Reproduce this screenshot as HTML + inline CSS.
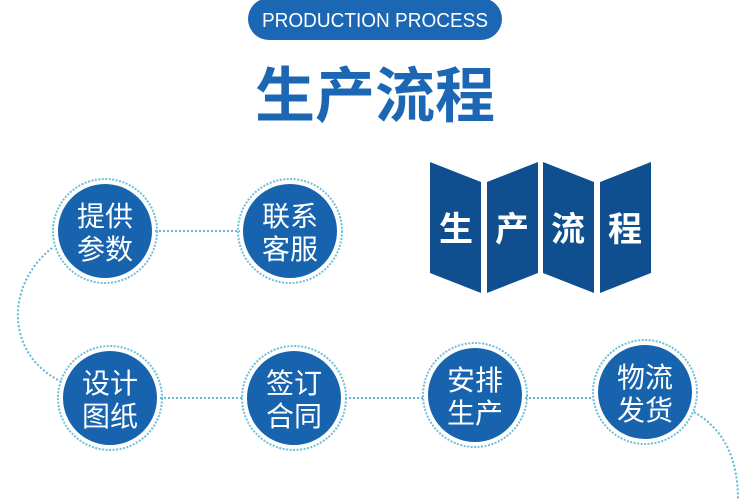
<!DOCTYPE html>
<html><head><meta charset="utf-8"><style>
html,body{margin:0;padding:0;background:#fff;}
svg{display:block}
</style></head><body>
<svg width="750" height="500" viewBox="0 0 750 500" xmlns="http://www.w3.org/2000/svg" font-family="Liberation Sans, Noto Sans CJK SC, sans-serif">
<rect x="248" y="-2" width="254" height="42" rx="21" fill="#1b67b4"/>
<text x="375" y="27" text-anchor="middle" fill="#fff" font-size="20" textLength="226" lengthAdjust="spacingAndGlyphs" font-family="Liberation Sans, sans-serif">PRODUCTION PROCESS</text>
<text x="375" y="117" text-anchor="middle" fill="#1b67b4" font-size="60" font-weight="bold" font-family="Noto Sans CJK SC, sans-serif">生产流程</text>
<g fill="#0f4f8f">
<polygon points="430,162 481,182 481,293 430,273"/>
<polygon points="487,182 538,162 538,273 487,293"/>
<polygon points="543,162 594,182 594,293 543,273"/>
<polygon points="600,182 651,162 651,273 600,293"/>
</g>
<g fill="#fff" font-size="34" font-weight="bold" font-family="Noto Sans CJK SC, sans-serif" text-anchor="middle">
<text x="456" y="241">生</text><text x="512" y="241">产</text><text x="568" y="241">流</text><text x="625" y="241">程</text>
</g>
<g fill="none" stroke="#5fb8d6" stroke-width="2" stroke-dasharray="2,2">
<line x1="155" y1="231" x2="240" y2="231"/>
<line x1="160" y1="398" x2="243" y2="398"/>
<line x1="345" y1="398" x2="425" y2="398"/>
<line x1="525" y1="398" x2="593" y2="398"/>
<path d="M52,248 C5,285 5,355 62,382"/>
<path d="M694,412 C725,430 738,460 738,500"/>
</g>
<g fill="#1763ae" stroke="#fff" stroke-width="2">
<circle cx="105" cy="231" r="48"/>
<circle cx="290" cy="231" r="48"/>
<circle cx="110" cy="398" r="48"/>
<circle cx="294" cy="398" r="48"/>
<circle cx="475" cy="395" r="48"/>
<circle cx="645" cy="392" r="48"/>
</g>
<g fill="none" stroke="#6cc0dc" stroke-width="2" stroke-dasharray="2,1.5">
<circle cx="105" cy="231" r="52"/>
<circle cx="290" cy="231" r="52"/>
<circle cx="110" cy="398" r="52"/>
<circle cx="294" cy="398" r="52"/>
<circle cx="475" cy="395" r="52"/>
<circle cx="645" cy="392" r="52"/>
</g>
<g fill="#fff" font-size="28" text-anchor="middle" font-family="Noto Sans CJK SC, sans-serif">
<text x="105" y="226">提供</text><text x="105" y="259">参数</text>
<text x="290" y="226">联系</text><text x="290" y="259">客服</text>
<text x="110" y="393">设计</text><text x="110" y="426">图纸</text>
<text x="294" y="393">签订</text><text x="294" y="426">合同</text>
<text x="475" y="390">安排</text><text x="475" y="423">生产</text>
<text x="645" y="387">物流</text><text x="645" y="420">发货</text>
</g>
</svg>
</body></html>
